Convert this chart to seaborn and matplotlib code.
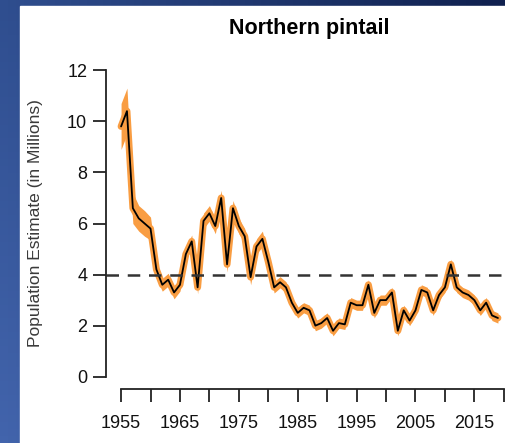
import numpy as np
import pandas as pd
import matplotlib
matplotlib.use("Agg")
import matplotlib.pyplot as plt
from matplotlib.patches import Rectangle
import seaborn as sns

# Northern pintail breeding population estimates (millions)
years = list(range(1955, 2020))
estimate = [9.8, 10.4, 6.6, 6.2, 6.0, 5.8, 4.2, 3.6, 3.8, 3.3,
            3.6, 4.8, 5.3, 3.5, 6.1, 6.4, 5.9, 7.0, 4.4, 6.6,
            5.9, 5.5, 3.9, 5.1, 5.4, 4.5, 3.5, 3.7, 3.5, 2.9,
            2.5, 2.7, 2.6, 2.0, 2.1, 2.3, 1.8, 2.1, 2.05, 2.9,
            2.8, 2.8, 3.6, 2.5, 3.0, 3.0, 3.3, 1.8, 2.6, 2.2,
            2.6, 3.4, 3.3, 2.6, 3.2, 3.5, 4.4, 3.5, 3.3, 3.2,
            3.0, 2.6, 2.9, 2.4, 2.3]
# half-width of the shaded uncertainty band (millions)
band = [0.9, 0.9, 0.6, 0.5, 0.5, 0.45, 0.35, 0.25, 0.25, 0.25,
        0.25, 0.25, 0.25, 0.25, 0.3, 0.3, 0.3, 0.3, 0.3, 0.3,
        0.3, 0.3, 0.3, 0.3, 0.3, 0.22, 0.22, 0.22, 0.22, 0.22,
        0.2, 0.2, 0.2, 0.2, 0.2, 0.2, 0.2, 0.2, 0.2, 0.2,
        0.2, 0.2, 0.2, 0.2, 0.2, 0.2, 0.2, 0.2, 0.2, 0.2,
        0.2, 0.2, 0.2, 0.2, 0.2, 0.2, 0.2, 0.2, 0.2, 0.2,
        0.2, 0.2, 0.2, 0.2, 0.2]
goal = 4.0
title = "Northern pintail"
ylabel = "Population Estimate (in Millions)"
yticks = [0, 2, 4, 6, 8, 10, 12]
xticks = list(range(1955, 2021, 5))
xticklabels = [str(y) if (y - 1955) % 10 == 0 else "" for y in xticks]

df = pd.DataFrame({"year": years, "est": estimate, "band": band})
df["lo"] = df["est"] - df["band"]
df["hi"] = df["est"] + df["band"]

sns.set_style("ticks")
plt.rcParams["font.family"] = ["Liberation Sans", "DejaVu Sans"]

W, H = 506, 443
fig = plt.figure(figsize=(W / 100, H / 100), dpi=100)

# blue slide background with a light gradient
bg = fig.add_axes([0, 0, 1, 1], zorder=-2)
tl = np.array([47, 78, 143]) / 255
tr = np.array([16, 32, 78]) / 255
bl = np.array([66, 100, 172]) / 255
gx = np.linspace(0, 1, 64)[None, :, None]
gy = np.linspace(0, 1, 64)[:, None, None]
grad = tl + (tr - tl) * gx + (bl - tl) * gy
bg.imshow(np.clip(grad, 0, 1), aspect="auto", extent=[0, 1, 0, 1], origin="upper")
bg.add_patch(Rectangle((20 / W, 0), 1, (H - 6) / H, color="white"))
bg.set_xlim(0, 1)
bg.set_ylim(0, 1)
bg.axis("off")

left, right, top, bottom = 106, 513, 58, 389
ax = fig.add_axes([left / W, (H - bottom) / H, (right - left) / W, (bottom - top) / H])
ax.set_facecolor("none")

orange = "#F99D42"
ax.fill_between(df["year"], df["lo"], df["hi"], color=orange, lw=0)
ax.plot(df["year"], df["est"], color=orange, lw=5, solid_joinstyle="round",
        solid_capstyle="round")
sns.lineplot(data=df, x="year", y="est", ax=ax, color="black", lw=1.3)
ax.axhline(goal, color="#333333", lw=1.8, ls=(0, (5, 3.5)))

ax.set_xlim(1952.44, 2021.56)
ax.set_ylim(-0.48, 12.48)
ax.set_xticks(xticks)
ax.set_xticklabels(xticklabels)
ax.set_yticks(yticks)
ax.set_yticklabels([str(v) for v in yticks])

for s in ["top", "right"]:
    ax.spines[s].set_visible(False)
ax.spines["left"].set_bounds(0, 12)
ax.spines["bottom"].set_bounds(1955, 2020)
for s in ["left", "bottom"]:
    ax.spines[s].set_linewidth(1.3)
    ax.spines[s].set_color("#222222")
ax.tick_params(axis="both", direction="out", length=9.5, width=1.3, color="#222222",
               labelsize=13, labelcolor="#111111")
ax.tick_params(axis="y", pad=4)
ax.tick_params(axis="x", pad=9)

ax.set_xlabel("")
ax.set_ylabel(ylabel, fontsize=12.5, color="#3a3a3a")
ax.yaxis.set_label_coords(-(left - 43) / (right - left), 0.5)
ax.set_title(title, fontsize=15.5, fontweight="bold", color="black", pad=17)

fig.savefig("out.png", dpi=100)
